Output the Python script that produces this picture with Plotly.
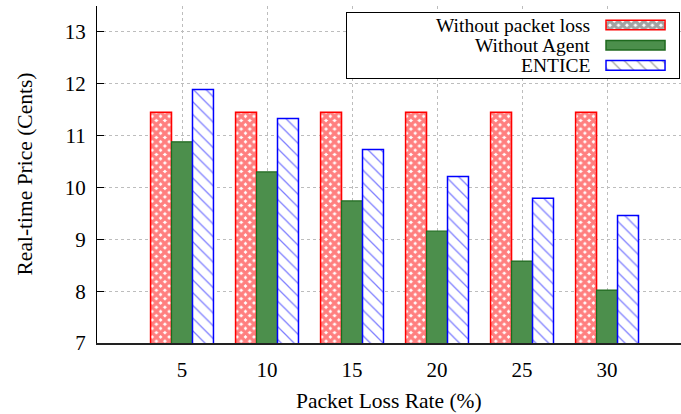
import plotly.graph_objects as go

# ---- data ----
loss_rates = ["5", "10", "15", "20", "25", "30"]
series_names = ["Without packet loss", "Without Agent", "ENTICE"]
without_packet_loss = [11.45, 11.45, 11.45, 11.45, 11.45, 11.45]
without_agent = [10.88, 10.30, 9.74, 9.16, 8.58, 8.02]
entice = [11.89, 11.33, 10.73, 10.21, 9.79, 9.46]
y_ticks = [7, 8, 9, 10, 11, 12, 13]

positions = list(range(1, len(loss_rates) + 1))
FONT = "Liberation Serif"

styles = {
    "Without packet loss": dict(color="white", line=dict(color="#ff0000", width=1.5),
                                pattern=dict(shape="x", fgcolor="#ff0000", bgcolor="white",
                                             size=6, solidity=0.8)),
    "Without Agent": dict(color="#4c8f4c", line=dict(color="#1f6a1f", width=1.2)),
    "ENTICE": dict(color="white", line=dict(color="#0000ff", width=1.5),
                   pattern=dict(shape="\\", fgcolor="#0000ff", bgcolor="white",
                                size=9, solidity=0.14)),
}
values = {
    "Without packet loss": without_packet_loss,
    "Without Agent": without_agent,
    "ENTICE": entice,
}

fig = go.Figure()
for name in series_names:
    fig.add_trace(go.Bar(x=positions, y=values[name], name=name,
                         marker=styles[name], showlegend=False))

# custom legend swatches (text on the left, key on the right, like gnuplot)
fig.add_trace(go.Bar(
    x=[1] * len(series_names), y=series_names, orientation="h",
    xaxis="x3", yaxis="y3", width=0.48, showlegend=False, hoverinfo="skip",
    marker=dict(
        color=["white", "#4c8f4c", "white"],
        line=dict(color=["#ff0000", "#1f6a1f", "#0000ff"], width=1.5),
        pattern=dict(shape=["x", "", "\\"],
                     fgcolor=["#ff0000", "#4c8f4c", "#0000ff"],
                     bgcolor=["white", "#4c8f4c", "white"],
                     size=[6, 8, 9], solidity=[0.8, 0.5, 0.14]),
    ),
))

annotations = []
for name in series_names:
    annotations.append(dict(text=name, x=-0.24, xref="x3", y=name, yref="y3",
                            xanchor="right", yanchor="middle", showarrow=False,
                            font=dict(family=FONT, size=19.5, color="black")))

annotations.append(dict(text="Packet Loss Rate (%)", x=0.5, xref="paper",
                        y=-0.172, yref="paper", xanchor="center", yanchor="middle",
                        showarrow=False, font=dict(family=FONT, size=21.5, color="black")))
annotations.append(dict(text="Real-time Price (Cents)", x=-0.125, xref="paper",
                        y=0.5, yref="paper", xanchor="center", yanchor="middle",
                        textangle=-90, showarrow=False,
                        font=dict(family=FONT, size=21.5, color="black")))

xr = [0, 6.87]
fig.update_layout(
    width=681, height=414,
    margin=dict(l=97, r=0, t=6, b=71),
    paper_bgcolor="white", plot_bgcolor="white",
    barmode="group", bargap=0.26, bargroupgap=0,
    font=dict(family=FONT, size=20, color="black"),
    annotations=annotations,
    xaxis=dict(range=xr, tickmode="array", tickvals=positions, ticktext=loss_rates,
               ticks="", showline=True, linecolor="#222222", linewidth=2,
               showgrid=True, gridcolor="#bdbdbd", griddash="dot", gridwidth=1,
               zeroline=False, ticklabelstandoff=7,
               tickfont=dict(family=FONT, size=21, color="black")),
    xaxis2=dict(range=xr, overlaying="x", side="top", anchor="y",
                tickmode="array", tickvals=positions, ticks="inside", ticklen=7,
                tickcolor="black", showticklabels=False, showline=True,
                linecolor="black", linewidth=1.5, showgrid=False, zeroline=False),
    yaxis=dict(range=[7, 13.5], tickmode="array", tickvals=y_ticks,
               ticks="inside", ticklen=7, tickcolor="black",
               showline=True, linecolor="black", linewidth=1,
               showgrid=True, gridcolor="#bdbdbd", griddash="dot", gridwidth=1,
               zeroline=False, ticklabelstandoff=6,
               tickfont=dict(family=FONT, size=21, color="black")),
    xaxis3=dict(domain=[0.428, 0.9966], anchor="y3", range=[-4.39, 1.237],
                showgrid=False, zeroline=False, showticklabels=False, ticks="",
                showline=True, mirror=True, linecolor="black", linewidth=1,
                fixedrange=True),
    yaxis3=dict(domain=[0.7864, 0.9807], anchor="x3", type="category",
                categoryorder="array", categoryarray=series_names,
                autorange="reversed", showgrid=False, zeroline=False,
                showticklabels=False, ticks="", showline=True, mirror=True,
                linecolor="black", linewidth=1, fixedrange=True),
)

fig.write_html("out.html", config={"displayModeBar": False, "staticPlot": True},
               post_script="document.body.style.margin='0px';document.body.style.overflow='hidden';")
